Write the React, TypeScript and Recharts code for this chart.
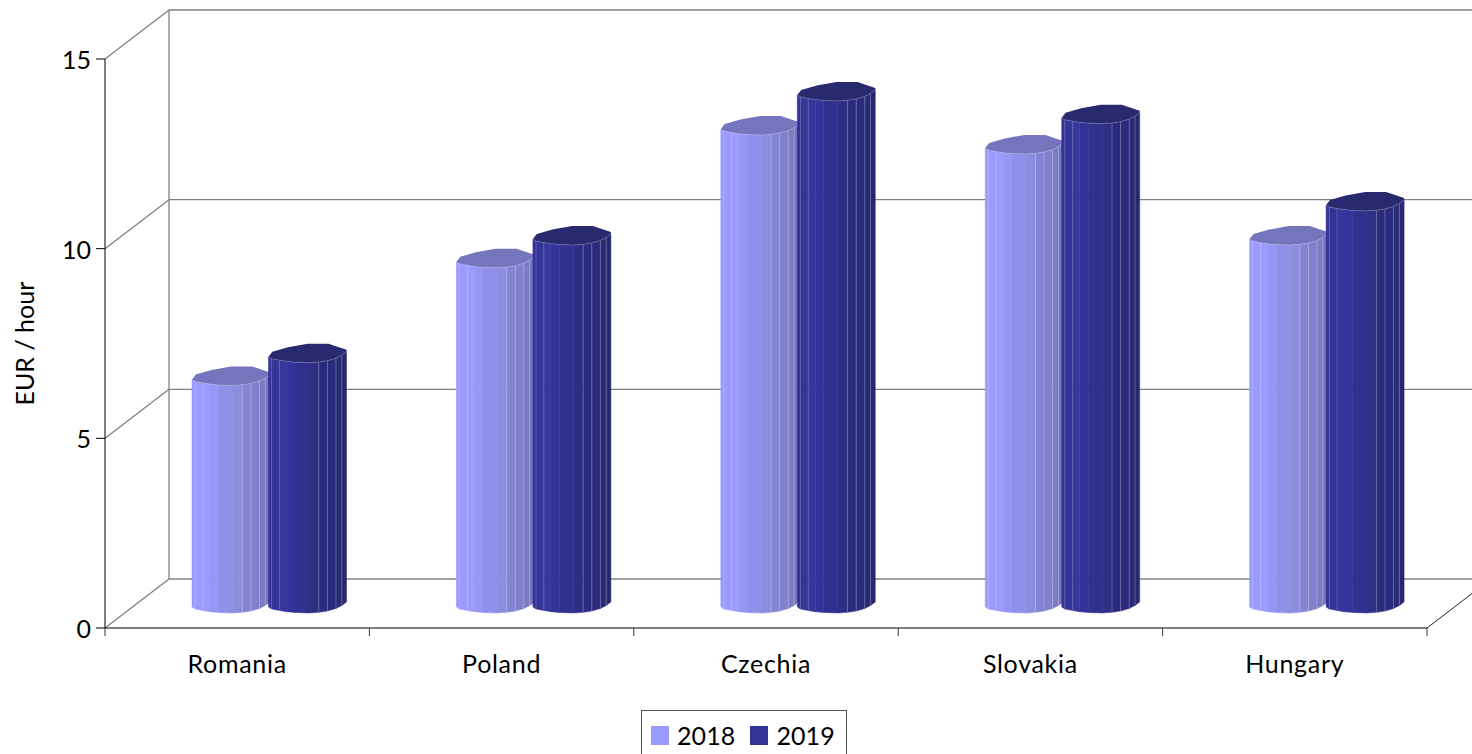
import { Bar, BarChart, CartesianGrid, Legend, XAxis, YAxis } from "recharts";

const countries = ["Romania", "Poland", "Czechia", "Slovakia", "Hungary"];
const values2018 = [6.0, 9.1, 12.6, 12.1, 9.7];
const values2019 = [6.6, 9.7, 13.5, 12.9, 10.6];
const yTicks = [0, 5, 10, 15];

const data = countries.map((country, i) => ({
  country,
  "2018": values2018[i],
  "2019": values2019[i],
}));

const WIDTH = 1472;
const HEIGHT = 754;
const FONT = "Lato, sans-serif";
const PLOT_LEFT = 105;
const PLOT_RIGHT = 1427;
const PLOT_TOP = 59;
const PLOT_BOTTOM = 628;
const BAND = (PLOT_RIGHT - PLOT_LEFT) / countries.length;

// depth of the box, and how far the bars sit inside it
const DEPTH_X = 64;
const DEPTH_Y = 49;
const BAR_SHIFT_X = 32;
const BAR_SHIFT_Y = 25;

const WALL = "#808080";

// facet edges across a column: [fraction of width, y offset of the front rim]
const FRONT_RIM: [number, number][] = [
  [0, 4],
  [0.04, 6],
  [0.14, 7.5],
  [0.23, 8.7],
  [0.34, 9.5],
  [0.52, 10],
  [0.645, 9.3],
  [0.755, 8],
  [0.865, 5.5],
  [0.94, 2.5],
  [1, -1],
];
const BACK_RIM: [number, number][] = [
  [1, -3],
  [0.77, -9],
  [0.5, -9],
  [0.25, -5.5],
  [0.05, -1],
  [0, 4],
];
// brightness of the highlight on each inner facet edge
const EDGE_OPACITY = [0.18, 0.18, 0, 0, 0, 0.25, 0.25, 0.25, 0.25];

const LIGHT_FACETS = [
  "#9a9aff",
  "#9a9aff",
  "#9c9cff",
  "#9696f5",
  "#9090ea",
  "#8d8de0",
  "#8484d4",
  "#8080cc",
  "#7c7cc4",
  "#7878bb",
];
const DARK_FACETS = [
  "#333399",
  "#343499",
  "#36369c",
  "#33339a",
  "#30308f",
  "#2e2e85",
  "#2b2b7d",
  "#2b2b7d",
  "#2a2a76",
  "#282870",
];

const Column = (props: any, facets: string[], capFill: string) => {
  const { x, y, width, height } = props;
  const left = x + BAR_SHIFT_X;
  const top = y - BAR_SHIFT_Y;
  const base = y + height - BAR_SHIFT_Y;
  const rimX = (u: number) => left + u * width;

  const capPoints = [...FRONT_RIM, ...BACK_RIM]
    .map(([u, dy]) => `${rimX(u)},${top + dy}`)
    .join(" ");

  return (
    <g>
      {facets.map((fill, i) => {
        const [u0, d0] = FRONT_RIM[i];
        const [u1, d1] = FRONT_RIM[i + 1];
        const pts = [
          `${rimX(u0)},${top + d0}`,
          `${rimX(u1)},${top + d1}`,
          `${rimX(u1)},${base + d1}`,
          `${rimX(u0)},${base + d0}`,
        ].join(" ");
        return <polygon key={i} points={pts} fill={fill} stroke={fill} strokeWidth={0.5} />;
      })}
      {FRONT_RIM.slice(1, -1).map(([u, d], i) => (
        <line
          key={i}
          x1={rimX(u)}
          x2={rimX(u)}
          y1={top + d}
          y2={base + d}
          stroke="#ffffff"
          strokeOpacity={EDGE_OPACITY[i]}
        />
      ))}
      <polygon points={capPoints} fill={capFill} />
      <polyline
        points={FRONT_RIM.map(([u, d]) => `${rimX(u)},${top + d}`).join(" ")}
        fill="none"
        stroke="#ffffff"
        strokeOpacity={0.2}
      />
    </g>
  );
};

// one call per value line: back wall line, the diagonal on the side wall, and the box edges
const WallLine = (props: any) => {
  const { x1, x2, y1 } = props;
  const backX = x1 + DEPTH_X;
  const backY = y1 - DEPTH_Y;
  const isTop = Math.abs(y1 - PLOT_TOP) < 1;
  const isFloor = Math.abs(y1 - PLOT_BOTTOM) < 1;
  return (
    <g key={props.key}>
      <line x1={backX} x2={x2 + DEPTH_X} y1={backY} y2={backY} stroke={WALL} strokeWidth={1.3} />
      <line x1={x1} x2={backX} y1={y1} y2={backY} stroke={WALL} strokeWidth={1.3} />
      {isTop && (
        <line
          x1={backX}
          x2={backX}
          y1={backY}
          y2={PLOT_BOTTOM - DEPTH_Y}
          stroke={WALL}
          strokeWidth={1.3}
        />
      )}
      {isFloor && <line x1={x2} x2={x2 + DEPTH_X} y1={y1} y2={backY} stroke="#222222" />}
    </g>
  );
};

const CountryTick = (props: any) => {
  const { x, y, payload, index } = props;
  const right = x + BAND / 2;
  const left = x - BAND / 2;
  return (
    <g>
      <line x1={left} x2={left} y1={PLOT_BOTTOM} y2={PLOT_BOTTOM + 8} stroke="#333333" />
      {index === countries.length - 1 && (
        <line x1={right} x2={right} y1={PLOT_BOTTOM} y2={PLOT_BOTTOM + 8} stroke="#333333" />
      )}
      <text
        x={x}
        y={y}
        dy={37}
        textAnchor="middle"
        fontFamily={FONT}
        fontSize={25}
        letterSpacing={0.7}
        fill="#000000"
      >
        {payload.value}
      </text>
    </g>
  );
};

const LegendBox = ({ payload }: any) => (
  <div
    style={{
      boxSizing: "border-box",
      width: 206,
      height: 60,
      border: "1.5px solid #555555",
      background: "#ffffff",
      display: "flex",
      alignItems: "flex-start",
      paddingTop: 7,
      paddingLeft: 9,
      fontFamily: FONT,
      fontSize: 25,
      letterSpacing: 0.1,
      lineHeight: "34px",
      color: "#000000",
    }}
  >
    {payload.map((item: any) => (
      <span key={item.value} style={{ display: "flex", alignItems: "center", marginRight: 15 }}>
        <span
          style={{
            display: "inline-block",
            width: 18,
            height: 19,
            background: item.color,
            marginRight: 8,
          }}
        />
        {item.value}
      </span>
    ))}
  </div>
);

export default function App() {
  return (
    <div
      style={{
        position: "absolute",
        left: 0,
        top: 0,
        width: WIDTH,
        height: HEIGHT,
        overflow: "hidden",
        background: "#ffffff",
      }}
    >
      <BarChart
        width={WIDTH}
        height={HEIGHT}
        data={data}
        barCategoryGap="20.8%"
        barGap={-1.5}
        margin={{
          top: PLOT_TOP,
          right: WIDTH - PLOT_RIGHT,
          bottom: HEIGHT - PLOT_BOTTOM - 60,
          left: 0,
        }}
      >
        <CartesianGrid vertical={false} horizontal={WallLine} />
        <XAxis
          dataKey="country"
          height={60}
          interval={0}
          stroke="#000000"
          tickLine={false}
          tick={CountryTick}
        />
        <YAxis
          width={PLOT_LEFT}
          domain={[0, 15]}
          ticks={yTicks}
          stroke="#000000"
          tickSize={9}
          tickMargin={5}
          tick={{ fontFamily: FONT, fontSize: 25, fill: "#000000", dy: 1 }}
          label={{
            value: "EUR / hour",
            angle: -90,
            position: "insideLeft",
            offset: 0,
            dx: 25,
            dy: 62,
            style: { fontFamily: FONT, fontSize: 25, fill: "#000000" },
          }}
        />
        <Legend
          verticalAlign="middle"
          layout="horizontal"
          wrapperStyle={{ left: 641, top: 710, width: 206, bottom: "auto" }}
          content={LegendBox}
        />
        <Bar
          dataKey="2018"
          fill="#9999ff"
          isAnimationActive={false}
          shape={(p: any) => Column(p, LIGHT_FACETS, "#7575be")}
        />
        <Bar
          dataKey="2019"
          fill="#333399"
          isAnimationActive={false}
          shape={(p: any) => Column(p, DARK_FACETS, "#29296f")}
        />
      </BarChart>
    </div>
  );
}
